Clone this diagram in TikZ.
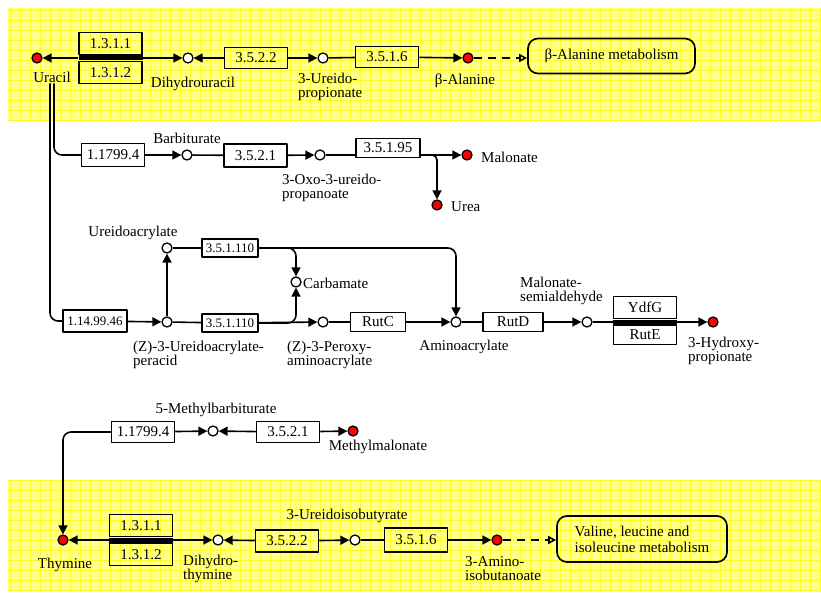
\documentclass[tikz,border=0pt]{standalone}
\usepackage{fontspec}
\setmainfont{Liberation Serif}
\usetikzlibrary{arrows.meta,positioning}

\begin{document}
\begin{tikzpicture}[x=1pt,y=-1pt,line join=round,
  font=\fontsize{15}{14}\selectfont,
  ln/.style={line width=1.6pt},
  arr/.style={ln,-{Triangle[length=9pt,width=9pt]}},
  maparr/.style={ln,dash pattern=on 8pt off 6pt,-{Triangle[open,length=8pt,width=8pt]}},
  enz/.style={draw,line width=1.5pt,minimum width=63pt,minimum height=21pt,inner sep=0pt},
  cpd/.style={circle,draw,line width=1.3pt,minimum size=10pt,inner sep=0pt,fill=white},
  cpdred/.style={cpd,fill=red},
  band/.style={fill=black,minimum width=64pt,minimum height=5pt,inner sep=0pt},
  lbl/.style={inner sep=1pt,align=left},
  mapbox/.style={draw,line width=1.7pt,rounded corners=10pt,align=left,font=\fontsize{15}{16}\selectfont}]
  \useasboundingbox (0,0) rectangle (821,593);
  \definecolor{bandbg}{RGB}{255,255,140}
  \definecolor{bandgrid}{RGB}{255,250,40}

  % yellow bands
  \fill[bandbg] (8,8) rectangle (821,120);
  \draw[bandgrid,line width=0.7pt,step=10pt] (8,8) grid (821,120);
  \fill[bandbg] (8,480) rectangle (821,592);
  \draw[bandgrid,line width=0.7pt,step=10pt] (8,480) grid (821,592);

  % uracil -> beta-alanine
  \node[cpdred] (uracil) at (37,58) {};
  \node[lbl] (uracil-l) at (52,77) {Uracil};
  \node[band] (b1) at (110.5,58) {};
  \node[enz,above=0pt of b1,minimum height=22pt] (e1311) {1.3.1.1};
  \node[enz,below=0pt of b1,minimum height=22pt] (e1312) {1.3.1.2};
  \node[cpd] (dhu) at (188,58) {};
  \node[lbl] (dhu-l) at (193,84) {Dihydrouracil};
  \node[enz] (e3522) at (256,58) {3.5.2.2};
  \node[cpd] (upr) at (323,58) {};
  \node[lbl,anchor=west] (upr-l) at (297,87) {3-Ureido-\\propionate};
  \node[enz] (e3516) at (387,57) {3.5.1.6};
  \node[cpdred] (bala) at (468,58) {};
  \node[lbl] (bala-l) at (465,81) {β-Alanine};
  \node[mapbox,minimum width=167pt,minimum height=35pt] (map1) at (611.5,56) {β-Alanine metabolism};

  \draw[arr] (b1) -- (uracil);
  \draw[arr] (b1) -- (dhu);
  \draw[arr] (e3522) -- (dhu);
  \draw[arr] (e3522) -- (upr);
  \draw[ln] (upr) -- (e3516);
  \draw[arr] (e3516) -- (bala);
  \draw[maparr] (bala.east) -- (bala.east -| map1.west);

  % barbiturate branch
  \node[enz,minimum height=23pt] (e11799) at (113,155) {1.1799.4};
  \node[cpd] (barb) at (187,155) {};
  \node[lbl] (barb-l) at (187,138) {Barbiturate};
  \node[enz,minimum height=23pt] (e3521) at (255.5,155.5) {3.5.2.1};
  \node[cpd] (oxo) at (320,155) {};
  \node[lbl,anchor=west] (oxo-l) at (281,188) {3-Oxo-3-ureido-\\propanoate};
  \node[enz,minimum width=64pt,minimum height=19pt] (e35195) at (388,148) {3.5.1.95};
  \node[cpdred] (mal) at (467,155) {};
  \node[lbl,anchor=west] (mal-l) at (480,157) {Malonate};
  \node[cpdred] (urea) at (437,205) {};
  \node[lbl,anchor=west] (urea-l) at (450,207) {Urea};

  \draw[ln,rounded corners=8] ([xshift=2pt]uracil-l.south) |- (e11799);
  \draw[arr] (e11799) -- (barb);
  \draw[ln] (barb) -- (e3521);
  \draw[arr] (e3521) -- (oxo);
  \draw[ln] (oxo) -- (oxo -| e35195.west);
  \draw[arr] (mal -| e35195.east) -- (mal);
  \draw[arr,rounded corners=5] (mal -| e35195.east) -| (urea);

  % rut pathway
  \node[enz,minimum width=64pt,minimum height=22pt,font=\fontsize{13}{13}\selectfont] (e1149946) at (95,321) {1.14.99.46};
  \node[cpd] (peracid) at (167,322) {};
  \node[lbl,anchor=west] (peracid-l) at (132,355) {(Z)-3-Ureidoacrylate-\\peracid};
  \node[cpd] (uacr) at (167,248) {};
  \node[lbl] (uacr-l) at (133,233) {Ureidoacrylate};
  \node[enz,minimum width=56pt,minimum height=18pt,font=\fontsize{13}{13}\selectfont] (e351110a) at (230,248) {3.5.1.110};
  \node[enz,minimum width=56pt,minimum height=18pt,font=\fontsize{13}{13}\selectfont] (e351110b) at (230,323) {3.5.1.110};
  \node[cpd] (carb) at (296,282) {};
  \node[lbl,anchor=west] (carb-l) at (302,283) {Carbamate};
  \node[cpd] (perox) at (323,322) {};
  \node[lbl,anchor=west] (perox-l) at (286,355) {(Z)-3-Peroxy-\\aminoacrylate};
  \node[enz,minimum width=55pt,minimum height=19pt] (rutc) at (378,322) {RutC};
  \node[cpd] (amino) at (456,322) {};
  \node[lbl] (amino-l) at (464,347) {Aminoacrylate};
  \node[enz,minimum width=60pt,minimum height=19pt] (rutd) at (513,322) {RutD};
  \node[cpd] (msa) at (587,322) {};
  \node[lbl,anchor=west] (msa-l) at (519,291) {Malonate-\\semialdehyde};
  \node[band] (b3) at (645,322) {};
  \node[enz,above=0pt of b3,minimum height=22pt] (ydfg) {YdfG};
  \node[enz,below=0pt of b3,minimum height=19pt] (rute) {RutE};
  \node[cpdred] (hp) at (713,322) {};
  \node[lbl,anchor=west] (hp-l) at (687,351) {3-Hydroxy-\\propionate};

  \draw[ln,rounded corners=8] ([xshift=-2pt]uracil-l.south) |- (e1149946);
  \draw[arr] (e1149946) -- (peracid);
  \draw[arr,line width=2pt] (peracid) -- (uacr);
  \draw[ln] (uacr) -- (e351110a);
  \draw[arr,rounded corners=8] (e351110a) -| (amino);
  \draw[arr,rounded corners=8] (e351110a) -| (carb);
  \draw[ln] (peracid) -- (e351110b);
  \draw[arr] (e351110b) -- (perox);
  \draw[arr,rounded corners=8] (e351110b) -| (carb);
  \draw[ln] (perox) -- (rutc);
  \draw[arr] (rutc) -- (amino);
  \draw[ln] (amino) -- (rutd);
  \draw[arr] (rutd) -- (msa);
  \draw[ln] (msa) -- (b3);
  \draw[arr] (b3) -- (hp);

  % methylbarbiturate branch
  \node[enz] (e11799b) at (143,432) {1.1799.4};
  \node[cpd] (mbarb) at (213,431) {};
  \node[lbl] (mbarb-l) at (216,410) {5-Methylbarbiturate};
  \node[enz] (e3521b) at (288,432) {3.5.2.1};
  \node[cpdred] (mmal) at (353,431) {};
  \node[lbl] (mmal-l) at (378,447) {Methylmalonate};

  % thymine -> 3-aminoisobutanoate
  \node[cpdred] (thy) at (63,540) {};
  \node[lbl] (thy-l) at (65,565) {Thymine};
  \node[band] (b5) at (141,540) {};
  \node[enz,above=0pt of b5,minimum height=22pt] (e1311b) {1.3.1.1};
  \node[enz,below=0pt of b5,minimum height=22pt] (e1312b) {1.3.1.2};
  \node[cpd] (dht) at (218,540) {};
  \node[lbl,anchor=west] (dht-l) at (182,569) {Dihydro-\\thymine};
  \node[enz,minimum height=22pt] (e3522b) at (287,541) {3.5.2.2};
  \node[cpd] (uib) at (355,540) {};
  \node[lbl] (uib-l) at (347,516) {3-Ureidoisobutyrate};
  \node[enz,minimum height=24pt] (e3516b) at (416,540) {3.5.1.6};
  \node[cpdred] (aib) at (497,540) {};
  \node[lbl,anchor=west] (aib-l) at (464,569) {3-Amino-\\isobutanoate};
  \node[mapbox,minimum width=170pt,minimum height=46pt] (map2) at (642,539) {Valine, leucine and\\isoleucine metabolism};

  \draw[arr] (e11799b) -- (mbarb);
  \draw[arr,rounded corners=8] (e11799b) -| (thy);
  \draw[arr] (e3521b) -- (mbarb);
  \draw[arr] (e3521b) -- (mmal);
  \draw[arr] (b5) -- (thy);
  \draw[arr] (b5) -- (dht);
  \draw[arr] (e3522b) -- (dht);
  \draw[arr] (e3522b) -- (uib);
  \draw[ln] (uib) -- (e3516b);
  \draw[arr] (e3516b) -- (aib);
  \draw[maparr] (aib.east) -- (aib.east -| map2.west);
\end{tikzpicture}
\end{document}
